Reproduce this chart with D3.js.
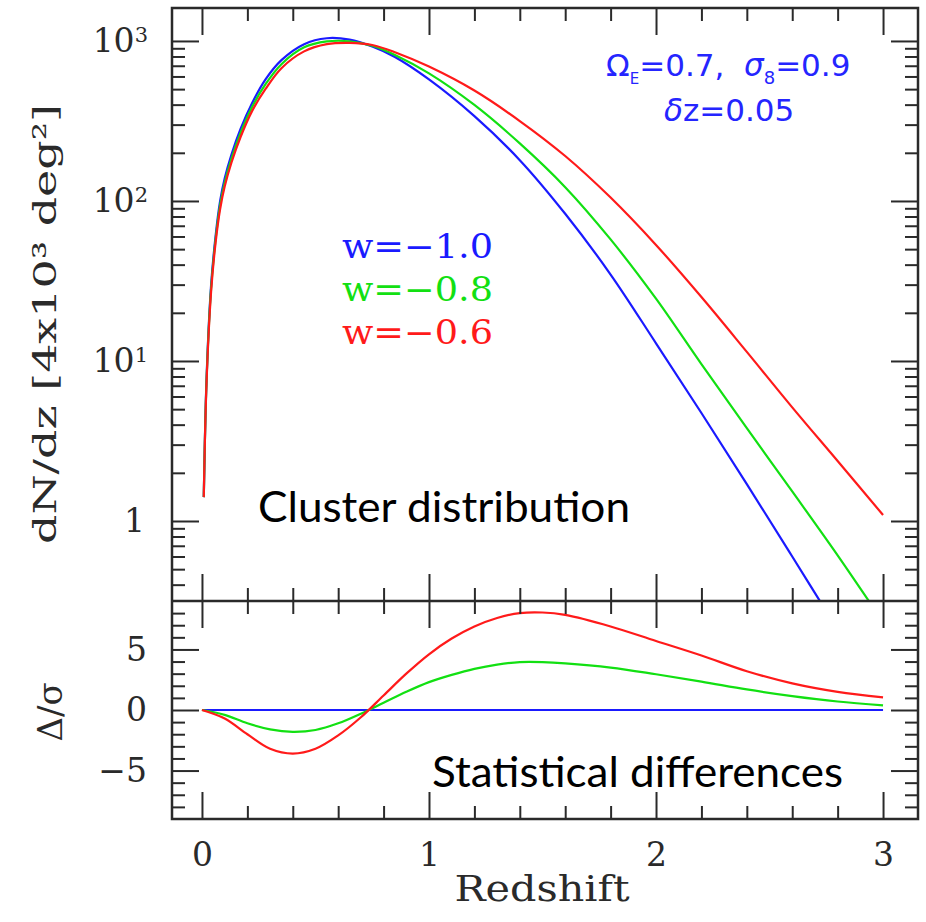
<!DOCTYPE html>
<html>
<head>
<meta charset="utf-8">
<script src="https://cdn.jsdelivr.net/npm/d3@7"></script>
<style>
  body { margin: 0; background: #fff; }
  svg { display: block; }
</style>
</head>
<body>
<div id="chart"></div>
<script>
// redshift samples, top panel
const zTop = [0.008, 0.02, 0.04, 0.06, 0.08, 0.10, 0.13, 0.17, 0.22, 0.28, 0.35, 0.45, 0.55, 0.65,
  0.75, 0.85, 1.0, 1.2, 1.4, 1.6, 1.8, 2.0, 2.2, 2.4, 2.6, 2.8, 3.0];

// dN/dz for w = -1.0, -0.8, -0.6
const dndzW10 = [1.41, 7.6, 29.5, 60.3, 100, 138, 195, 282, 407, 575, 759, 955, 1040, 1019,
  923, 794, 575, 339, 180, 83.2, 34.7, 12.9, 4.73, 1.70, 0.60, 0.21, 0.076];
const dndzW08 = [1.41, 7.41, 28.2, 57.5, 94.4, 130, 184, 266, 385, 537, 716, 912, 993, 995,
  933, 818, 627, 398, 229, 122, 57.5, 24.5, 9.55, 3.80, 1.53, 0.61, 0.234];
const dndzW06 = [1.41, 7.24, 26.9, 55.0, 89.1, 123, 174, 251, 363, 501, 676, 861, 955, 973,
  944, 851, 692, 490, 316, 191, 105, 53.1, 25.1, 11.4, 5.13, 2.37, 1.09];

// bottom panel: difference / sigma
const zBottom = [0, 0.1, 0.2, 0.3, 0.4, 0.5, 0.6, 0.7, 0.8, 0.9, 1.0, 1.1, 1.2, 1.3, 1.4,
  1.5, 1.6, 1.8, 2.0, 2.2, 2.4, 2.6, 2.8, 3.0];
const diffW10 = [0, 0, 0, 0, 0, 0, 0, 0, 0, 0, 0, 0, 0, 0, 0, 0, 0, 0, 0, 0, 0, 0, 0, 0];
const diffW08 = [0, -0.4, -1.1, -1.6, -1.8, -1.65, -1.1, -0.3, 0.6, 1.5, 2.3, 2.9, 3.4, 3.75, 3.95,
  3.95, 3.85, 3.5, 2.95, 2.35, 1.7, 1.15, 0.7, 0.38];
const diffW06 = [0, -0.7, -2.0, -3.2, -3.6, -3.2, -2.1, -0.6, 1.2, 3.0, 4.6, 5.9, 6.9, 7.6, 8.0,
  8.05, 7.85, 6.9, 5.7, 4.5, 3.2, 2.2, 1.5, 1.05];

const seriesNames = ["w=\u22121.0", "w=\u22120.8", "w=\u22120.6"];

// ticks
const xMajor = [0, 1, 2, 3];
const xMinor = [0.2, 0.4, 0.6, 0.8, 1.2, 1.4, 1.6, 1.8, 2.2, 2.4, 2.6, 2.8];
const logMajor = [1, 10, 100, 1000];
const logMinor = [0.4, 0.5, 0.6, 0.7, 0.8, 0.9, 2, 3, 4, 5, 6, 7, 8, 9, 20, 30, 40, 50, 60, 70, 80, 90,
  200, 300, 400, 500, 600, 700, 800, 900];
const logExponents = { 1: "", 10: "1", 100: "2", 1000: "3" };
const diffMajor = [-5, 0, 5];
const diffMinor = [-8, -7, -6, -4, -3, -2, -1, 1, 2, 3, 4, 6, 7, 8];

const colors = ["#1a1aff", "#12e012", "#ff1a1a"];
const axisColor = "#2a2a2a";
const serif = "'DejaVu Serif', serif";

const chartWidth = 926, chartHeight = 922;
const plotLeft = 172, plotRight = 918, plotTop = 8, plotMid = 601, plotBottom = 819;
const majorLen = 27, minorLen = 13;

const svg = d3.select("#chart").append("svg")
  .attr("width", chartWidth)
  .attr("height", chartHeight);

const x = d3.scaleLinear().domain([-0.132, 3.154]).range([plotLeft, plotRight]);
const yTop = d3.scaleLog().domain([Math.pow(10, -0.5), Math.pow(10, 3.206)]).range([plotMid, plotTop]);
const yBot = d3.scaleLinear().domain([-9, 9]).range([plotBottom, plotMid]);

svg.append("defs").append("clipPath").attr("id", "clip-top")
  .append("rect")
  .attr("x", plotLeft).attr("y", plotTop)
  .attr("width", plotRight - plotLeft).attr("height", plotMid - plotTop);

// curves
const lineTop = d3.line()
  .x(d => x(d[0]))
  .y(d => yTop(d[1]))
  .curve(d3.curveCatmullRom.alpha(0.5));

const lineBot = d3.line()
  .x(d => x(d[0]))
  .y(d => yBot(d[1]))
  .curve(d3.curveCatmullRom.alpha(0.5));

const topSeries = [dndzW10, dndzW08, dndzW06];
const botSeries = [diffW10, diffW08, diffW06];

svg.append("g")
  .attr("clip-path", "url(#clip-top)")
  .selectAll("path")
  .data(topSeries)
  .enter()
  .append("path")
  .attr("d", vals => lineTop(vals.map((v, i) => [zTop[i], v])))
  .attr("fill", "none")
  .attr("stroke", (d, i) => colors[i])
  .attr("stroke-width", 2.2);

svg.append("g")
  .selectAll("path")
  .data(botSeries)
  .enter()
  .append("path")
  .attr("d", vals => lineBot(vals.map((v, i) => [zBottom[i], v])))
  .attr("fill", "none")
  .attr("stroke", (d, i) => colors[i])
  .attr("stroke-width", 2.2);

// axes, ticks point inward
const addAxis = (axis, tx, ty) => {
  const g = svg.append("g")
    .attr("transform", "translate(" + tx + "," + ty + ")")
    .call(axis);
  g.select(".domain").remove();
  g.selectAll(".tick line").attr("stroke", axisColor).attr("stroke-width", 2);
  g.selectAll("text")
    .attr("fill", axisColor)
    .style("font-family", serif)
    .style("font-size", "33px");
  return g;
};

// x ticks: top edge, divider (both sides), bottom edge
addAxis(d3.axisTop(x).tickValues(xMajor).tickSize(-majorLen).tickFormat(""), 0, plotTop);
addAxis(d3.axisTop(x).tickValues(xMinor).tickSize(-minorLen).tickFormat(""), 0, plotTop);
addAxis(d3.axisBottom(x).tickValues(xMajor).tickSize(-majorLen).tickFormat(""), 0, plotMid);
addAxis(d3.axisBottom(x).tickValues(xMinor).tickSize(-minorLen).tickFormat(""), 0, plotMid);
addAxis(d3.axisTop(x).tickValues(xMajor).tickSize(-majorLen).tickFormat(""), 0, plotMid);
addAxis(d3.axisTop(x).tickValues(xMinor).tickSize(-minorLen).tickFormat(""), 0, plotMid);
addAxis(d3.axisBottom(x).tickValues(xMinor).tickSize(-minorLen).tickFormat(""), 0, plotBottom);
addAxis(d3.axisBottom(x).tickValues(xMajor).tickSize(-majorLen).tickPadding(24).tickFormat(d3.format("d")), 0, plotBottom)
  .selectAll("text").attr("dy", "0.71em");

// log y ticks
const gLogLabels = addAxis(d3.axisLeft(yTop).tickValues(logMajor).tickSize(-majorLen).tickPadding(26)
  .tickFormat(d => d === 1 ? "1" : "10"), plotLeft, 0);
gLogLabels.selectAll("text").each(function(d) {
  if (logExponents[d]) {
    d3.select(this).append("tspan")
      .attr("dy", "-0.5em")
      .style("font-size", "21px")
      .text(logExponents[d]);
  }
});
gLogLabels.selectAll("text").attr("x", -24);
gLogLabels.selectAll("text").filter(d => d === 1).attr("x", -27);
addAxis(d3.axisLeft(yTop).tickValues(logMinor).tickSize(-minorLen).tickFormat(""), plotLeft, 0);
addAxis(d3.axisRight(yTop).tickValues(logMajor).tickSize(-majorLen).tickFormat(""), plotRight, 0);
addAxis(d3.axisRight(yTop).tickValues(logMinor).tickSize(-minorLen).tickFormat(""), plotRight, 0);

// linear y ticks
addAxis(d3.axisLeft(yBot).tickValues(diffMajor).tickSize(-majorLen).tickPadding(25)
  .tickFormat(d => d < 0 ? "\u2212" + Math.abs(d) : String(d)), plotLeft, 0);
addAxis(d3.axisLeft(yBot).tickValues(diffMinor).tickSize(-minorLen).tickFormat(""), plotLeft, 0);
addAxis(d3.axisRight(yBot).tickValues(diffMajor).tickSize(-majorLen).tickFormat(""), plotRight, 0);
addAxis(d3.axisRight(yBot).tickValues(diffMinor).tickSize(-minorLen).tickFormat(""), plotRight, 0);

// frames
svg.append("rect")
  .attr("x", plotLeft).attr("y", plotTop)
  .attr("width", plotRight - plotLeft).attr("height", plotBottom - plotTop)
  .attr("fill", "none")
  .attr("stroke", axisColor)
  .attr("stroke-width", 2.5);

svg.append("line")
  .attr("x1", plotLeft).attr("x2", plotRight)
  .attr("y1", plotMid).attr("y2", plotMid)
  .attr("stroke", axisColor)
  .attr("stroke-width", 2.5);

// axis titles
svg.append("text")
  .attr("text-anchor", "middle")
  .attr("x", 542)
  .attr("y", 901)
  .attr("fill", axisColor)
  .attr("textLength", 175)
  .attr("lengthAdjust", "spacingAndGlyphs")
  .style("font-family", serif)
  .style("font-size", "35px")
  .text("Redshift");

svg.append("text")
  .attr("text-anchor", "middle")
  .attr("transform", "translate(56," + 324 + ") rotate(-90)")
  .attr("fill", axisColor)
  .style("font-family", serif)
  .style("font-size", "32px")
  .attr("textLength", 440)
  .attr("lengthAdjust", "spacingAndGlyphs")
  .text("dN/dz [4x10\u00b3 deg\u00b2]");

svg.append("text")
  .attr("text-anchor", "middle")
  .attr("transform", "translate(62," + 712 + ") rotate(-90)")
  .attr("fill", axisColor)
  .style("font-family", serif)
  .style("font-size", "34px")
  .text("\u0394/\u03c3");

// legend
svg.append("g")
  .selectAll("text")
  .data(seriesNames)
  .enter()
  .append("text")
  .attr("x", 342)
  .attr("y", (d, i) => 258 + i * 43)
  .attr("fill", (d, i) => colors[i])
  .attr("textLength", 151)
  .attr("lengthAdjust", "spacingAndGlyphs")
  .style("font-family", serif)
  .style("font-size", "33px")
  .text(d => d);

// parameters
const note = svg.append("text")
  .attr("x", 606)
  .attr("y", 76)
  .attr("fill", "#2525ff")
  .style("font-family", "'DejaVu Sans', sans-serif")
  .style("font-size", "31px");
note.append("tspan").text("\u03a9");
note.append("tspan").attr("dy", 8).style("font-size", "15px").text("E");
note.append("tspan").attr("dy", -8).text("=0.7,\u00a0\u00a0");
note.append("tspan").style("font-style", "italic").text("\u03c3");
note.append("tspan").attr("dy", 8).style("font-size", "18px").text("8");
note.append("tspan").attr("dy", -8).text("=0.9");

const note2 = svg.append("text")
  .attr("x", 664)
  .attr("y", 121)
  .attr("fill", "#2525ff")
  .style("font-family", "'DejaVu Sans', sans-serif")
  .style("font-size", "31px");
note2.append("tspan").style("font-style", "italic").text("\u03b4");
note2.append("tspan").text("z=0.05");

// panel captions
svg.append("text")
  .attr("x", 258)
  .attr("y", 522)
  .attr("fill", "#000")
  .attr("textLength", 372)
  .attr("lengthAdjust", "spacingAndGlyphs")
  .style("font-family", "Lato, sans-serif")
  .style("font-size", "42px")
  .text("Cluster distribution");

svg.append("text")
  .attr("x", 432)
  .attr("y", 787)
  .attr("fill", "#000")
  .attr("textLength", 411)
  .attr("lengthAdjust", "spacingAndGlyphs")
  .style("font-family", "Lato, sans-serif")
  .style("font-size", "42px")
  .text("Statistical differences");
</script>
</body>
</html>
